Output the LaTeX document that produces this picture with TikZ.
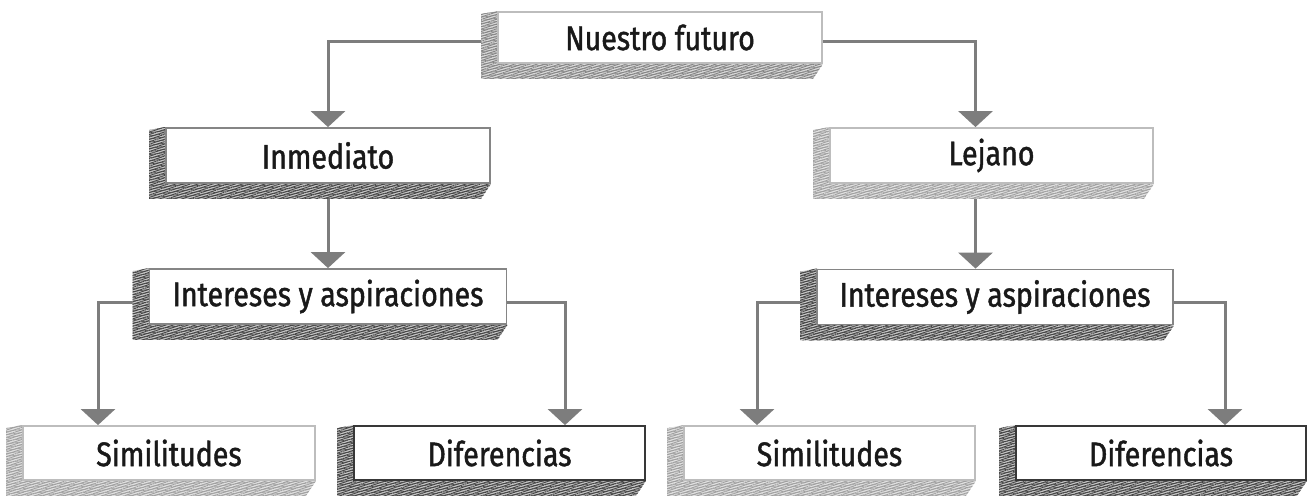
\documentclass[tikz,border=0pt]{standalone}
\usepackage{fontspec}
\newfontfamily\hand{Fira Sans}[FakeStretch=0.84, FakeBold=1.3]
\usetikzlibrary{arrows.meta,patterns.meta,calc}
\pgfdeclarelayer{bg}
\pgfdeclarelayer{mid}
\pgfsetlayers{bg,mid,main}
\definecolor{linegray}{HTML}{7D7D7D}
\definecolor{lightb}{HTML}{BDBDBD}
\definecolor{midb}{HTML}{858585}
\definecolor{darkb}{HTML}{383838}
\definecolor{lighth}{HTML}{A0A0A0}
\definecolor{midh}{HTML}{858585}
\definecolor{darkh}{HTML}{444444}
\tikzset{
  box/.style={draw, fill=white, line width=1.8pt, inner sep=0pt,
    minimum height=55pt, text=black!90,
    font=\hand\fontsize{34}{37}\selectfont},
  conn/.style={draw=linegray, line width=3pt,
    -{Triangle[width=34pt,length=16pt]}},
}
\newcommand\xtrude[2]{%
  \begin{pgfonlayer}{mid}
  \path[fill=#2!30]
    (#1.north west) -- ($(#1.north west)+(-16,3)$) --
    ($(#1.south west)+(-16,15)$) -- ($(#1.south east)+(-10,15)$) --
    (#1.south east) -- cycle;
  \path[pattern={Lines[angle=18,distance=2.3pt,line width=0.9pt]}, pattern color=#2]
    (#1.north west) -- ($(#1.north west)+(-16,3)$) --
    ($(#1.south west)+(-16,15)$) -- ($(#1.south east)+(-10,15)$) --
    (#1.south east) -- cycle;
  \path[pattern={Lines[angle=8,distance=3.1pt,line width=0.6pt]}, pattern color=#2]
    (#1.north west) -- ($(#1.north west)+(-16,3)$) --
    ($(#1.south west)+(-16,15)$) -- ($(#1.south east)+(-10,15)$) --
    (#1.south east) -- cycle;
  \end{pgfonlayer}}
\begin{document}
\begin{tikzpicture}[x=1pt,y=-1pt]
\useasboundingbox (0,0) rectangle (1308,495);
\node[box, draw=lightb, minimum width=324pt, minimum height=51pt] (nf) at (660,37.5) {Nuestro futuro};
\node[box, draw=midb, minimum width=324pt] (inm) at (328,155.5) {Inmediato};
\node[box, draw=lightb, minimum width=323pt] (lej) at (991.5,155.5) {Lejano};
\node[box, draw=midb, minimum width=357pt] (il) at (328,296.5) {Intereses y aspiraciones};
\node[box, draw=midb, minimum width=356pt] (ir) at (995,297) {Intereses y aspiraciones};
\node[box, draw=lightb, minimum width=292pt, minimum height=54pt] (sl) at (169,453) {Similitudes};
\node[box, draw=darkb, minimum width=291pt, minimum height=54pt] (dl) at (499.5,453) {Diferencias};
\node[box, draw=lightb, minimum width=291pt, minimum height=54pt] (sr) at (829.5,453) {Similitudes};
\node[box, draw=darkb, minimum width=290pt, minimum height=54pt] (dr) at (1161,453) {Diferencias};
\xtrude{nf}{midh}
\xtrude{inm}{darkh}
\xtrude{lej}{lighth}
\xtrude{il}{darkh}
\xtrude{ir}{darkh}
\xtrude{sl}{lighth}
\xtrude{dl}{darkh}
\xtrude{sr}{lighth}
\xtrude{dr}{darkh}
\begin{pgfonlayer}{bg}
\draw[conn] ([yshift=-4.5pt]nf.west) -| (inm.north);
\draw[conn] ([yshift=-4.5pt]nf.east) -| ([xshift=-16pt]lej.north);
\draw[conn] (inm.south) -- (il.north);
\draw[conn] ([xshift=-16pt]lej.south) -- ([xshift=-16pt]lej.south |- ir.north);
\draw[conn] ([yshift=-5.5pt]il.west) -| ([xshift=-71pt]sl.north);
\draw[conn] ([yshift=-5.5pt]il.east) -| ([xshift=65.5pt]dl.north);
\draw[conn] ([yshift=-5pt]ir.west) -| ([xshift=-72.5pt]sr.north);
\draw[conn] ([yshift=-5pt]ir.east) -| ([xshift=64pt]dr.north);
\end{pgfonlayer}
\end{tikzpicture}
\end{document}
